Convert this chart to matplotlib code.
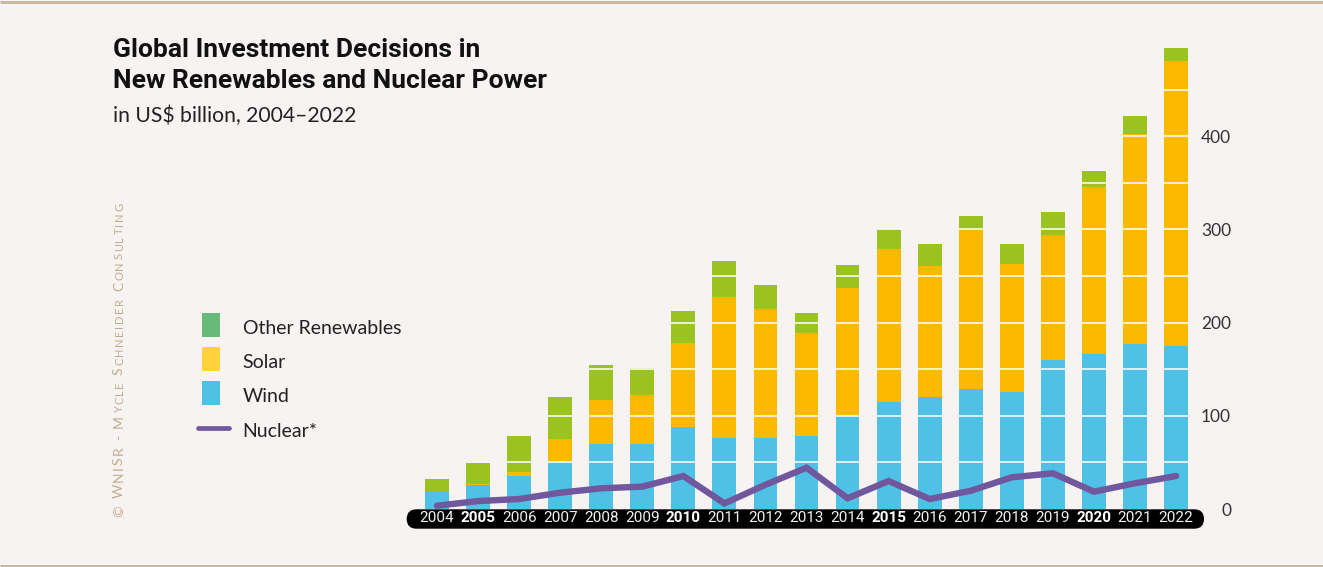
import matplotlib
matplotlib.use("Agg")
import matplotlib.pyplot as plt
import numpy as np
from matplotlib.patches import FancyBboxPatch, Rectangle

# ---------------- data ----------------
years = list(range(2004, 2023))
wind = [18.6, 25.7, 35.7, 50.0, 69.7, 69.7, 88.3, 76.5, 76.5, 78.6,
        99.8, 115.1, 120.2, 128.8, 125.5, 160.2, 166.6, 177.4, 175.2]
solar = [0.0, 1.0, 4.3, 25.1, 47.3, 52.6, 89.7, 151.0, 138.1, 110.2,
         137.3, 163.9, 140.5, 171.6, 137.4, 133.8, 178.9, 225.0, 305.5]
other = [13.6, 23.0, 38.6, 45.1, 37.5, 28.7, 34.4, 38.5, 25.7, 21.5,
         24.7, 21.4, 23.6, 14.0, 21.4, 24.7, 17.2, 19.3, 13.9]
nuclear = [3.5, 8.5, 10.7, 17.5, 22.2, 24.0, 35.4, 6.0, 26.0, 44.3,
           11.5, 30.0, 10.7, 19.6, 34.0, 38.3, 18.6, 27.6, 35.4]
bold_years = [2005, 2010, 2015, 2020]
yticks = [0, 100, 200, 300, 400]
grid_levels = [50, 100, 150, 200, 250, 300, 350, 400, 450]
legend_labels = ["Other Renewables", "Solar", "Wind", "Nuclear*"]

title_lines = ["Global Investment Decisions in", "New Renewables and Nuclear Power"]
subtitle = "in US$ billion, 2004\u20132022"
watermark = "© WNISR - Mycle Schneider Consulting"

# ---------------- style ----------------
BG = "#F7F3F2"
C_WIND = "#4FC1E6"
C_SOLAR = "#FBBA00"
C_OTHER = "#9BC31F"
C_NUC = "#71579D"
LEG_OTHER = "#67BA78"
LEG_SOLAR = "#FFD13B"
TAN = "#C5B59D"

W, H = 1323, 567
fig = plt.figure(figsize=(W / 100, H / 100), dpi=100, facecolor=BG)

# overlay axes in pixel coordinates (y downward)
ov = fig.add_axes([0, 0, 1, 1], zorder=0)
ov.set_xlim(0, W)
ov.set_ylim(H, 0)
ov.axis("off")
ov.patch.set_alpha(0)

# main axes
L, R = 406.2, 1205.6
y0, ytop = 509.0, 24.36
ax = fig.add_axes([L / W, (H - y0) / H, (R - L) / W, (y0 - ytop) / H], zorder=1)
ax.patch.set_alpha(0)
x = np.arange(len(years))
bw = 0.58
wind_a = np.array(wind)
solar_a = np.array(solar)
other_a = np.array(other)
total = wind_a + solar_a + other_a
ax.bar(x, wind_a, bw, color=C_WIND, zorder=1)
ax.bar(x, solar_a, bw, bottom=wind_a, color=C_SOLAR, zorder=1)
ax.bar(x, other_a, bw, bottom=wind_a + solar_a, color=C_OTHER, zorder=1)
# white grid lines, visible only across the bars
for g in grid_levels:
    m = total > g
    ax.hlines([g] * int(m.sum()), x[m] - bw / 2, x[m] + bw / 2,
              color="white", lw=1.3, alpha=0.85, zorder=2.5)
ax.plot(x, nuclear, color=C_NUC, lw=4.6, solid_capstyle="round",
        solid_joinstyle="miter", zorder=3)

ax.set_xlim(-0.75, 18.72)
ax.set_ylim(0, 520)
for s in ax.spines.values():
    s.set_visible(False)

ax.set_xticks(x)
ax.set_xticklabels([str(y) for y in years])
ax.tick_params(axis="x", length=0, pad=1.5, labelsize=11, labelcolor="#F2F2F2")
for lab, yr in zip(ax.get_xticklabels(), years):
    lab.set_fontfamily("Roboto")
    if yr in bold_years:
        lab.set_fontweight("bold")
        lab.set_color("white")

ax.yaxis.tick_right()
ax.set_yticks(yticks)
ax.set_yticklabels([str(v) for v in yticks])
ax.tick_params(axis="y", length=0, pad=18.3, labelsize=12.5, labelcolor="#333333")
for lab in ax.get_yticklabels():
    lab.set_fontfamily("Lato")
    lab.set_horizontalalignment("right")

# pill behind x labels
pill = FancyBboxPatch((406.7, 509.3), 797.3, 19.4,
                      boxstyle="round,pad=0,rounding_size=9.7",
                      fc="black", ec="none", zorder=1)
ov.add_patch(pill)

# border lines
ov.plot([0, W], [1.5, 1.5], color=TAN, lw=2, solid_capstyle="butt")
ov.plot([0, W], [565.5, 565.5], color=TAN, lw=2, solid_capstyle="butt")

# title
ov.text(113, 56.7, title_lines[0], fontsize=19, fontweight="bold",
        family="Roboto", color="#111111", va="baseline", ha="left")
ov.text(113, 88.3, title_lines[1], fontsize=19, fontweight="bold",
        family="Roboto", color="#111111", va="baseline", ha="left")
ov.text(113, 121.7, subtitle, fontsize=15.2, family="Lato",
        color="#222222", va="baseline", ha="left")

# legend
patch_cols = [LEG_OTHER, LEG_SOLAR, C_WIND]
tops = [313, 347, 381]
for c, t in zip(patch_cols, tops):
    ov.add_patch(Rectangle((202, t), 18, 24, fc=c, ec="none"))
ov.plot([198, 229], [428.3, 428.3], color=C_NUC, lw=3.4, solid_capstyle="round")
baselines = [334, 368.3, 402.3, 436.7]
for lab, b in zip(legend_labels, baselines):
    ov.text(242.7, b, lab, fontsize=14, family="Lato", color="#222222",
            va="baseline", ha="left")

# watermark (small caps, tracked, vertical)
renderer = fig.canvas.get_renderer()
big, small = 10.0, 8.0
chars = []
words_big = {"WNISR"}
for word in watermark.split(" "):
    if word in words_big or word in ("©", "-"):
        for ch in word:
            chars.append((ch, big))
    else:
        chars.append((word[0].upper(), big))
        for ch in word[1:]:
            chars.append((ch.upper(), small))
    chars.append((" ", big))
chars = chars[:-1]
widths = []
for ch, fs in chars:
    if ch == " ":
        t = ov.text(0, 0, "M M", fontsize=fs, family="Lato")
        w1 = t.get_window_extent(renderer).width
        t.remove()
        t = ov.text(0, 0, "MM", fontsize=fs, family="Lato")
        w2 = t.get_window_extent(renderer).width
        t.remove()
        widths.append(w1 - w2)
    else:
        t = ov.text(0, 0, ch, fontsize=fs, family="Lato")
        widths.append(t.get_window_extent(renderer).width)
        t.remove()
y_start, y_end = 517, 203
natural = sum(widths)
track = (y_start - y_end - natural) / (len(chars) - 1)
ypos = y_start
for (ch, fs), w in zip(chars, widths):
    if ch != " ":
        ov.text(123, ypos, ch, fontsize=fs, family="Lato", color="#C2AC8C",
                rotation=90, rotation_mode="anchor", ha="left", va="baseline")
    ypos -= w + track

fig.savefig("out.png", dpi=100, facecolor=BG)
